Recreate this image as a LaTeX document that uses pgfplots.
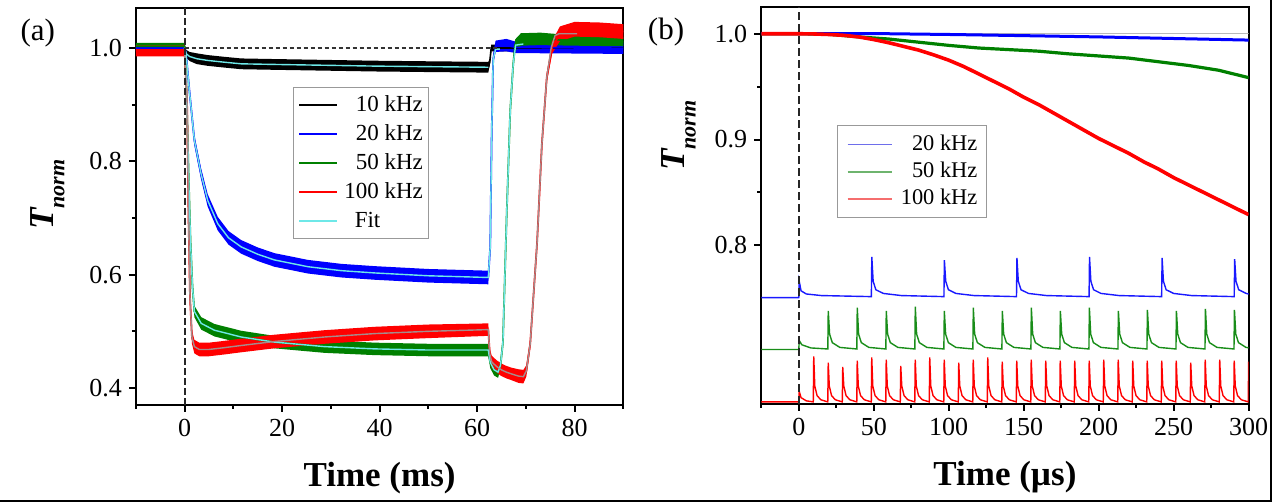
\documentclass[border=0pt]{standalone}
\usepackage{fontspec}
\setmainfont{Liberation Serif}
\usepackage{pgfplots}
\pgfplotsset{compat=1.18}
\usepackage{pgfplotstable}
\usepgfplotslibrary{fillbetween}

\definecolor{cblue}{RGB}{0,0,255}
\definecolor{cgreen}{RGB}{0,128,0}
\definecolor{cred}{RGB}{255,0,0}
\definecolor{cfit}{RGB}{110,232,232}
\definecolor{cgfit}{RGB}{165,140,140}
\definecolor{lblue}{RGB}{110,110,235}
\definecolor{lgreen}{RGB}{110,180,110}
\definecolor{lred}{RGB}{245,110,110}

% panel (a): centre value y and half-width h of each noisy trace
\pgfplotstableread{
x y h
-10 1.0 0.006
-0.01 1.0 0.006
0.3 0.99 0.007
1 0.985 0.008
2.5 0.981 0.0095
4.7 0.978 0.0095
8 0.975 0.0095
11.6 0.972 0.0095
18 0.971 0.0095
25 0.970 0.0095
32 0.969 0.0095
39 0.968 0.0095
50 0.967 0.0095
62.3 0.966 0.0095
62.6 0.975 0.006
62.9 1.0 0.006
90 1.0 0.006
}\tblack

\pgfplotstableread{
x y h
-10 1.0 0.006
-0.01 1.0 0.006
0.29 0.99 0.007
0.97 0.925 0.008
2.0 0.837 0.009
3.37 0.778 0.010
4.73 0.731 0.011
6.79 0.690 0.012
9 0.665 0.012
11.6 0.649 0.012
15 0.636 0.012
18.4 0.626 0.012
25.3 0.614 0.012
32.2 0.607 0.012
39 0.603 0.012
50 0.598 0.012
62.3 0.595 0.012
62.7 0.65 0.008
63.0 0.85 0.008
63.3 0.98 0.008
63.8 1.003 0.010
66 1.005 0.011
68 1.001 0.010
90 0.9995 0.010
}\tblue

\pgfplotstableread{
x y h
-10 1.003 0.006
-0.01 1.003 0.006
0.3 0.95 0.006
0.6 0.85 0.006
0.9 0.75 0.007
1.2 0.66 0.008
1.6 0.58 0.009
2.0 0.535 0.010
3.4 0.514 0.011
6.1 0.502 0.011
11.6 0.490 0.011
18.4 0.481 0.011
28.7 0.473 0.011
39 0.469 0.011
50 0.467 0.011
62.3 0.467 0.011
62.7 0.445 0.010
63.5 0.432 0.010
64.3 0.428 0.010
64.8 0.44 0.008
65.3 0.48 0.008
66.1 0.713 0.008
66.8 0.889 0.008
67.4 0.97 0.008
67.8 1.005 0.010
69 1.015 0.011
73 1.016 0.011
80 1.013 0.009
90 1.011 0.008
}\tgreen

\pgfplotstableread{
x y h
-10 0.995 0.010
-0.01 0.995 0.010
0.5 0.9 0.010
0.8 0.7 0.010
1.1 0.56 0.011
1.5 0.49 0.012
2.0 0.473 0.012
3 0.468 0.012
5 0.468 0.012
8 0.471 0.012
11.6 0.475 0.012
18.4 0.482 0.012
28.7 0.490 0.012
39 0.496 0.012
50 0.500 0.012
62.3 0.503 0.011
62.6 0.46 0.011
63 0.446 0.011
64 0.438 0.011
65 0.432 0.011
66 0.428 0.011
67 0.425 0.011
68.5 0.421 0.012
69.5 0.420 0.012
70.1 0.43 0.010
70.9 0.478 0.009
72.3 0.655 0.008
73.3 0.831 0.008
74.3 0.948 0.009
75.4 1.001 0.011
77 1.025 0.013
80 1.033 0.013
85 1.032 0.013
90 1.029 0.013
}\tred

\pgfplotsset{
  myax/.style={
    scale only axis,
    axis line style={line width=1pt},
    tick style={line width=1pt, black},
    tick align=outside,
    major tick length=3.5pt,
    minor tick length=2pt,
    tick pos=left,
    tick label style={font=\rmfamily\fontsize{13}{15}\selectfont},
    /pgf/number format/assume math mode=true,
    yticklabel style={/pgf/number format/fixed, /pgf/number format/fixed zerofill, /pgf/number format/precision=1},
    xlabel style={at={(axis description cs:0.5,0)}, anchor=base, yshift=-41pt, font=\fontsize{17.5}{20}\selectfont\bfseries},
    legend cell align=right,
  },
}

\begin{document}
\begin{tikzpicture}

% ---------------- panel (a)
\begin{axis}[myax,
  at={(67.95pt,48.5pt)}, anchor=south west,
  width=243.7pt, height=198.35pt,
  xmin=-10, xmax=90, ymin=0.37, ymax=1.07,
  xtick={0,20,40,60,80}, minor xtick={-10,10,30,50,70,90},
  ytick={0.4,0.6,0.8,1.0}, minor ytick={0.5,0.7,0.9},
  xlabel={Time (ms)},
  ylabel={\bfseries\itshape T\raisebox{-5.5pt}{\fontsize{11}{12}\selectfont norm}},
  ylabel style={at={(axis description cs:-0.1695,0.53)}, anchor=base, font=\fontsize{17.5}{20}\selectfont},
  legend style={at={(0.3217,0.801)}, anchor=north west, draw=gray!80, line width=0.5pt,
    font=\fontsize{11.5}{13}\selectfont, inner xsep=2.6pt, inner ysep=3.25pt,
    row sep=3.5pt, column sep=3.3pt,
    nodes={inner sep=0pt, text height=8.5pt, text depth=2.5pt}},
  legend image code/.code={\draw[#1] (0pt,0pt) -- (18.7pt,0pt);},
]
\addlegendimage{black, line width=1pt}\addlegendentry{10 kHz}
\addlegendimage{cblue, line width=1pt}\addlegendentry{20 kHz}
\addlegendimage{cgreen, line width=1pt}\addlegendentry{50 kHz}
\addlegendimage{cred, line width=1pt}\addlegendentry{100 kHz}
\addlegendimage{cfit, line width=1pt}\addlegendentry{Fit\hspace*{21.3pt}}

% black
\addplot[name path=kU, draw=none, forget plot] table[x=x, y expr=\thisrow{y}+\thisrow{h}] {\tblack};
\addplot[name path=kL, draw=none, forget plot] table[x=x, y expr=\thisrow{y}-\thisrow{h}] {\tblack};
\addplot[black, forget plot] fill between[of=kU and kL];
\addplot[black, line width=0.8pt, forget plot] table[x=x, y=y] {\tblack};
% blue
\addplot[name path=bU, draw=none, forget plot] table[x=x, y expr=\thisrow{y}+\thisrow{h}] {\tblue};
\addplot[name path=bL, draw=none, forget plot] table[x=x, y expr=\thisrow{y}-\thisrow{h}] {\tblue};
\addplot[cblue, forget plot] fill between[of=bU and bL];
\addplot[cblue, line width=0.9pt, forget plot] table[x=x, y=y] {\tblue};
% green
\addplot[name path=gU, draw=none, forget plot] table[x=x, y expr=\thisrow{y}+\thisrow{h}] {\tgreen};
\addplot[name path=gL, draw=none, forget plot] table[x=x, y expr=\thisrow{y}-\thisrow{h}] {\tgreen};
\addplot[cgreen, forget plot] fill between[of=gU and gL];
\addplot[cgreen, line width=0.9pt, forget plot] table[x=x, y=y] {\tgreen};
% red
\addplot[name path=rU, draw=none, forget plot] table[x=x, y expr=\thisrow{y}+\thisrow{h}] {\tred};
\addplot[name path=rL, draw=none, forget plot] table[x=x, y expr=\thisrow{y}-\thisrow{h}] {\tred};
\addplot[cred, forget plot] fill between[of=rU and rL];
\addplot[cred, line width=0.9pt, forget plot] table[x=x, y=y] {\tred};

% fits
\addplot[cfit, line width=0.7pt, forget plot] coordinates {
(0,1.0)(0.3,0.99)(1,0.985)(2.5,0.981)(4.7,0.978)(8,0.975)(11.6,0.972)(18,0.971)(25,0.970)(32,0.969)(39,0.968)(50,0.967)(62.3,0.966)};
\addplot[cfit, line width=0.7pt, forget plot] coordinates {
(0,1.0)(0.29,0.99)(0.97,0.925)(2.0,0.837)(3.37,0.778)(4.73,0.731)(6.79,0.690)(9,0.665)(11.6,0.649)(15,0.636)(18.4,0.626)(25.3,0.614)(32.2,0.607)(39,0.603)(50,0.598)(62.3,0.595)(62.7,0.65)(63.0,0.85)(63.3,0.98)(63.8,0.998)(64.7,0.998)};
\addplot[cfit, line width=0.7pt, forget plot] coordinates {
(0,1.0)(0.3,0.95)(0.6,0.85)(0.9,0.75)(1.2,0.66)(1.6,0.58)(2.0,0.535)(3.4,0.514)(6.1,0.502)(11.6,0.490)(18.4,0.481)(28.7,0.473)(39,0.469)(50,0.467)(62.3,0.467)(62.7,0.445)(63.5,0.432)(64.3,0.428)(64.8,0.44)(65.3,0.48)(66.1,0.713)(66.8,0.889)(67.4,0.97)(67.9,1.005)(69.5,1.007)};
\addplot[cgfit, line width=0.7pt, forget plot] coordinates {
(0,1.0)(0.5,0.9)(0.8,0.7)(1.1,0.56)(1.5,0.49)(2.0,0.473)(3,0.468)(5,0.468)(8,0.471)(11.6,0.475)(18.4,0.482)(28.7,0.490)(39,0.496)(50,0.500)(62.3,0.503)(62.6,0.46)(63,0.446)(64,0.438)(65,0.432)(66,0.428)(67,0.425)(68.5,0.421)(69.5,0.420)(70.1,0.43)(70.9,0.478)(72.3,0.655)(73.3,0.831)(74.3,0.948)(75.2,1.0)(76,1.022)(76.8,1.025)(80.5,1.025)};

% reference lines
\addplot[gray!40!black, line width=0.6pt, dash pattern=on 2pt off 1.5pt, forget plot] coordinates {(0,1.0)(64,1.0)};
\addplot[black!85, line width=0.9pt, dash pattern=on 3.3pt off 1.7pt, forget plot] coordinates {(0,0.37)(0,1.07)};
\end{axis}

% ---------------- panel (b)
\begin{axis}[myax,
  at={(380.65pt,49pt)}, anchor=south west,
  width=243.65pt, height=198.35pt,
  xmin=-25, xmax=300, ymin=0.65, ymax=1.025,
  xtick={0,50,100,150,200,250,300}, minor xtick={-25,25,75,125,175,225,275},
  ytick={0.8,0.9,1.0}, minor ytick={0.85,0.95},
  xlabel={Time (µs)},
  ylabel={\bfseries\itshape T\raisebox{-5.5pt}{\fontsize{11}{12}\selectfont norm}},
  ylabel style={at={(axis description cs:-0.1576,0.676)}, anchor=base, font=\fontsize{17.5}{20}\selectfont},
  legend style={at={(0.156,0.703)}, anchor=north west, draw=gray!80, line width=0.5pt,
    font=\fontsize{11.2}{13}\selectfont, inner xsep=4.45pt, inner ysep=4.1pt,
    row sep=2.75pt, column sep=4pt,
    nodes={inner sep=0pt, text height=8.3pt, text depth=2.5pt}},
  legend image code/.code={\draw[#1] (0pt,0pt) -- (22.25pt,0pt);},
]
\addlegendimage{lblue, line width=0.8pt}\addlegendentry{20 kHz}
\addlegendimage{lgreen, line width=0.8pt}\addlegendentry{50 kHz}
\addlegendimage{lred, line width=0.8pt}\addlegendentry{100 kHz}

\addplot[gray!55, line width=0.5pt, forget plot] coordinates {(-25,1.0)(300,1.0)};

% pulse traces
\addplot[cblue!90, line width=0.7pt, forget plot] coordinates {
(-25,0.7505)(0,0.7505)(0.3,0.766)(1.5,0.757)(5,0.754)(15,0.7525)
(48.4,0.7515)(48.7,0.789)(49.6,0.766)(51.4,0.758)(56.4,0.7545)(68.4,0.7525)
(96.8,0.7515)(97.1,0.786)(98.0,0.766)(99.8,0.758)(104.8,0.7545)(116.8,0.7525)
(145.2,0.7515)(145.5,0.788)(146.4,0.766)(148.2,0.758)(153.2,0.7545)(165.2,0.7525)
(193.6,0.7515)(193.9,0.789)(194.8,0.766)(196.6,0.758)(201.6,0.7545)(213.6,0.7525)
(242.0,0.7515)(242.3,0.788)(243.2,0.766)(245.0,0.758)(250.0,0.7545)(262.0,0.7525)
(290.4,0.7515)(290.7,0.787)(291.6,0.766)(293.4,0.758)(298.4,0.7545)(300,0.7540)};
\addplot[cgreen!90, line width=0.7pt, forget plot] coordinates {
(-25,0.7015)(0,0.7015)(0.3,0.71)(2,0.706)(8,0.703)
(19.35,0.702)(19.65,0.738)(20.55,0.716)(22.35,0.708)(27.35,0.7035)
(38.7,0.702)(39.0,0.741)(39.9,0.716)(41.7,0.708)(46.7,0.7035)
(58.05,0.702)(58.35,0.738)(59.25,0.716)(61.05,0.708)(66.05,0.7035)
(77.4,0.702)(77.7,0.742)(78.6,0.716)(80.4,0.708)(85.4,0.7035)
(96.75,0.702)(97.05,0.738)(97.95,0.716)(99.75,0.708)(104.75,0.7035)
(116.1,0.702)(116.4,0.741)(117.3,0.716)(119.1,0.708)(124.1,0.7035)
(135.45,0.702)(135.75,0.738)(136.65,0.716)(138.45,0.708)(143.45,0.7035)
(154.8,0.702)(155.1,0.741)(156.0,0.716)(157.8,0.708)(162.8,0.7035)
(174.15,0.702)(174.45,0.738)(175.35,0.716)(177.15,0.708)(182.15,0.7035)
(193.5,0.702)(193.8,0.741)(194.7,0.716)(196.5,0.708)(201.5,0.7035)
(212.85,0.702)(213.15,0.738)(214.05,0.716)(215.85,0.708)(220.85,0.7035)
(232.2,0.702)(232.5,0.739)(233.4,0.716)(235.2,0.708)(240.2,0.7035)
(251.55,0.702)(251.85,0.738)(252.75,0.716)(254.55,0.708)(259.55,0.7035)
(270.9,0.702)(271.2,0.740)(272.1,0.716)(273.9,0.708)(278.9,0.7035)
(290.25,0.702)(290.55,0.739)(291.45,0.716)(293.25,0.708)(298.25,0.7035)(300,0.7032)};
\addplot[cred, line width=0.7pt, forget plot] coordinates {
(-25,0.652)(0,0.652)(0.3,0.662)(1.5,0.656)(5,0.653)
(9.67,0.652)(9.97,0.695)(10.67,0.667)(12.17,0.658)(14.67,0.654)
(19.34,0.652)(19.64,0.689)(20.34,0.667)(21.84,0.658)(24.34,0.654)
(29.01,0.652)(29.31,0.685)(30.01,0.667)(31.51,0.658)(34.01,0.654)
(38.68,0.652)(38.98,0.691)(39.68,0.667)(41.18,0.658)(43.68,0.654)
(48.35,0.652)(48.65,0.694)(49.35,0.667)(50.85,0.658)(53.35,0.654)
(58.02,0.652)(58.32,0.692)(59.02,0.667)(60.52,0.658)(63.02,0.654)
(67.69,0.652)(67.99,0.686)(68.69,0.667)(70.19,0.658)(72.69,0.654)
(77.36,0.652)(77.66,0.692)(78.36,0.667)(79.86,0.658)(82.36,0.654)
(87.03,0.652)(87.33,0.694)(88.03,0.667)(89.53,0.658)(92.03,0.654)
(96.7,0.652)(97.0,0.692)(97.7,0.667)(99.2,0.658)(101.7,0.654)
(106.37,0.652)(106.67,0.689)(107.37,0.667)(108.87,0.658)(111.37,0.654)
(116.04,0.652)(116.34,0.692)(117.04,0.667)(118.54,0.658)(121.04,0.654)
(125.71,0.652)(126.01,0.694)(126.71,0.667)(128.21,0.658)(130.71,0.654)
(135.38,0.652)(135.68,0.690)(136.38,0.667)(137.88,0.658)(140.38,0.654)
(145.05,0.652)(145.35,0.691)(146.05,0.667)(147.55,0.658)(150.05,0.654)
(154.72,0.652)(155.02,0.692)(155.72,0.667)(157.22,0.658)(159.72,0.654)
(164.39,0.652)(164.69,0.691)(165.39,0.667)(166.89,0.658)(169.39,0.654)
(174.06,0.652)(174.36,0.691)(175.06,0.667)(176.56,0.658)(179.06,0.654)
(183.73,0.652)(184.03,0.691)(184.73,0.667)(186.23,0.658)(188.73,0.654)
(193.4,0.652)(193.7,0.691)(194.4,0.667)(195.9,0.658)(198.4,0.654)
(203.07,0.652)(203.37,0.692)(204.07,0.667)(205.57,0.658)(208.07,0.654)
(212.74,0.652)(213.04,0.692)(213.74,0.667)(215.24,0.658)(217.74,0.654)
(222.41,0.652)(222.71,0.691)(223.41,0.667)(224.91,0.658)(227.41,0.654)
(232.08,0.652)(232.38,0.691)(233.08,0.667)(234.58,0.658)(237.08,0.654)
(241.75,0.652)(242.05,0.691)(242.75,0.667)(244.25,0.658)(246.75,0.654)
(251.42,0.652)(251.72,0.691)(252.42,0.667)(253.92,0.658)(256.42,0.654)
(261.09,0.652)(261.39,0.689)(262.09,0.667)(263.59,0.658)(266.09,0.654)
(270.76,0.652)(271.06,0.692)(271.76,0.667)(273.26,0.658)(275.76,0.654)
(280.43,0.652)(280.73,0.692)(281.43,0.667)(282.93,0.658)(285.43,0.654)
(290.1,0.652)(290.4,0.691)(291.1,0.667)(292.6,0.658)(295.1,0.654)
(299.77,0.652)(300,0.690)};

% top traces
\addplot[cgreen, line width=1.6pt, forget plot] coordinates {
(-25,1.0)(0,1.0)(20,0.9995)(40,0.997)(60,0.995)(80,0.992)(100,0.989)(120,0.9865)(140,0.985)(160,0.9835)(180,0.981)(200,0.979)(220,0.977)(240,0.9735)(260,0.970)(280,0.9655)(300,0.9585)};
\addplot[cblue, line width=1.5pt, forget plot] coordinates {
(-25,1.0)(0,1.0)(60,1.0)(100,0.9993)(150,0.9982)(200,0.997)(250,0.9955)(300,0.994)};
\addplot[cred, line width=1.8pt, forget plot] coordinates {
(-25,1.0)(0,1.0)(10,0.9998)(20,0.9993)(30,0.9985)(40,0.997)(50,0.9945)(60,0.9915)(70,0.988)(80,0.9845)(90,0.980)(100,0.975)(110,0.969)(120,0.962)(130,0.955)(140,0.948)(150,0.940)(160,0.933)(170,0.925)(180,0.917)(190,0.909)(200,0.901)(210,0.894)(220,0.887)(230,0.879)(240,0.872)(250,0.864)(260,0.857)(270,0.850)(280,0.843)(290,0.836)(300,0.829)};

\addplot[black!85, line width=0.9pt, dash pattern=on 4pt off 2pt, forget plot] coordinates {(0,0.65)(0,1.025)};
\end{axis}

\node[font=\fontsize{15.5}{18}\selectfont] at (18.9pt,234.35pt) {(a)};
\node[font=\fontsize{15.5}{18}\selectfont] at (333pt,234.75pt) {(b)};
\draw[line width=0.6pt] (0pt,0.5pt) -- (635.5pt,0.5pt) -- (635.5pt,251pt);
\pgfresetboundingbox
\useasboundingbox (0pt,0pt) rectangle (637pt,251pt);
\end{tikzpicture}
\end{document}
